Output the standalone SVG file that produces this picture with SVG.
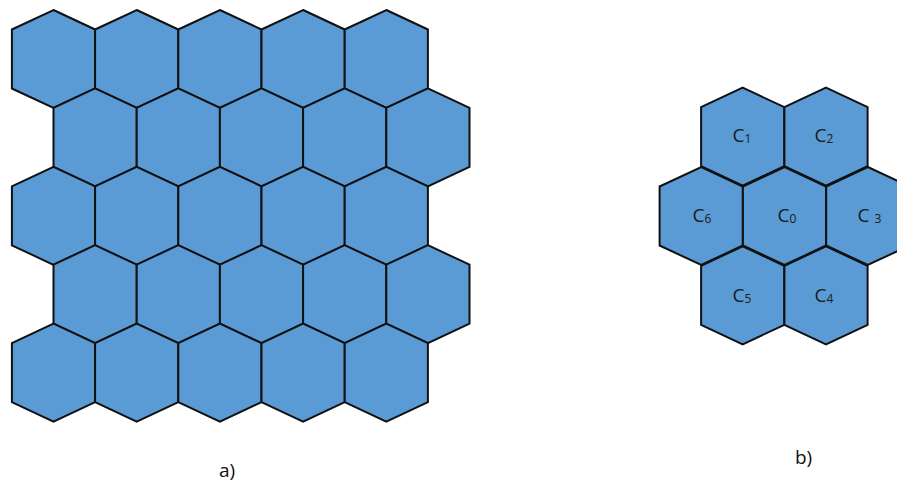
<svg xmlns="http://www.w3.org/2000/svg" xmlns:xlink="http://www.w3.org/1999/xlink" width="897" height="484" viewBox="0 0 897 484">
<style>
.hex{fill:#5b9bd5;stroke:#111;stroke-width:2;stroke-linejoin:miter}
.lbl{font-family:"Open Sans","Liberation Sans",sans-serif;font-size:19px;fill:#1a1a1a}
.sub{font-size:12px}
.cap{font-family:"Open Sans","Liberation Sans",sans-serif;font-size:19px;fill:#111}
</style>
<defs>
<polygon id="h" class="hex" points="0,-49 41.6,-29.5 41.6,29.5 0,49 -41.6,29.5 -41.6,-29.5"/>
</defs>
<g id="gridA">
<g id="a-r1">
<use href="#h" x="53.5" y="59"/><use href="#h" x="136.7" y="59"/><use href="#h" x="219.9" y="59"/><use href="#h" x="303.1" y="59"/><use href="#h" x="386.3" y="59"/>
</g>
<g id="a-r2">
<use href="#h" x="95.1" y="137.4"/><use href="#h" x="178.3" y="137.4"/><use href="#h" x="261.5" y="137.4"/><use href="#h" x="344.7" y="137.4"/><use href="#h" x="427.9" y="137.4"/>
</g>
<g id="a-r3">
<use href="#h" x="53.5" y="215.8"/><use href="#h" x="136.7" y="215.8"/><use href="#h" x="219.9" y="215.8"/><use href="#h" x="303.1" y="215.8"/><use href="#h" x="386.3" y="215.8"/>
</g>
<g id="a-r4">
<use href="#h" x="95.1" y="294.2"/><use href="#h" x="178.3" y="294.2"/><use href="#h" x="261.5" y="294.2"/><use href="#h" x="344.7" y="294.2"/><use href="#h" x="427.9" y="294.2"/>
</g>
<g id="a-r5">
<use href="#h" x="53.5" y="372.6"/><use href="#h" x="136.7" y="372.6"/><use href="#h" x="219.9" y="372.6"/><use href="#h" x="303.1" y="372.6"/><use href="#h" x="386.3" y="372.6"/>
</g>
</g>
<g id="clusterB">
<g id="C1"><use href="#h" x="742.7" y="136.7"/><text class="lbl" x="732.5" y="141.7">C<tspan class="sub" dy="1.5">1</tspan></text></g>
<g id="C2"><use href="#h" x="826" y="136.7"/><text class="lbl" x="814.5" y="141.5">C<tspan class="sub" dy="1.5">2</tspan></text></g>
<g id="C6"><use href="#h" x="701.2" y="216"/><text class="lbl" x="692.5" y="221.7">C<tspan class="sub" dy="1.5">6</tspan></text></g>
<g id="C0"><use href="#h" x="784.5" y="216"/><text class="lbl" x="777.5" y="221.7">C<tspan class="sub" dy="1.5">0</tspan></text></g>
<g id="C3"><use href="#h" x="867.8" y="216"/><text class="lbl" x="857.5" y="221.7">C <tspan class="sub" dy="1.5">3</tspan></text></g>
<g id="C5"><use href="#h" x="742.7" y="295.3"/><text class="lbl" x="732.5" y="301.7">C<tspan class="sub" dy="1.5">5</tspan></text></g>
<g id="C4"><use href="#h" x="826" y="295.3"/><text class="lbl" x="814.5" y="301.7">C<tspan class="sub" dy="1.5">4</tspan></text></g>
</g>
<g id="captions">
<text class="cap" x="219" y="476.5">a)</text>
<text class="cap" x="795" y="464">b)</text>
</g>
</svg>
